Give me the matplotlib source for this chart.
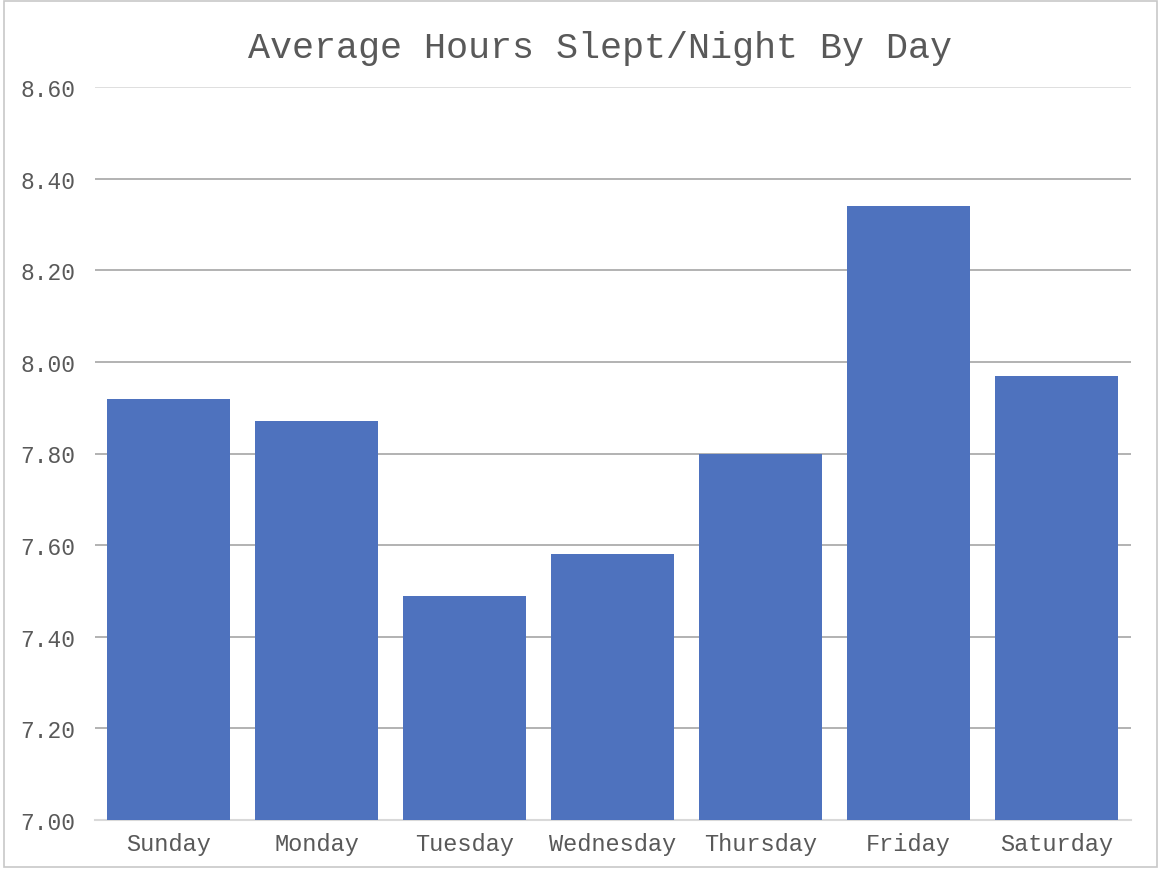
import matplotlib.pyplot as plt
from matplotlib.patches import Rectangle

days = ["Sunday", "Monday", "Tuesday", "Wednesday", "Thursday", "Friday", "Saturday"]
hours = [7.92, 7.87, 7.49, 7.58, 7.80, 8.34, 7.97]
yticks = [7.00, 7.20, 7.40, 7.60, 7.80, 8.00, 8.20, 8.40, 8.60]

plt.rcParams["font.family"] = ["Liberation Mono", "DejaVu Sans Mono"]
text_color = "#595959"

fig = plt.figure(figsize=(11.6, 8.7), dpi=100)
ax = fig.add_axes([94.5 / 1160, 1 - 821 / 870, 1036 / 1160, 733 / 870])

ax.bar(days, hours, width=0.83, color="#4e72be", zorder=3, bottom=0)
ax.set_ylim(7.0, 8.6)
ax.set_xlim(-0.5, len(days) - 0.5)
ax.set_yticks(yticks)
ax.set_yticklabels([f"{v:.2f}" for v in yticks])

ax.grid(axis="y", color="#a6a6a6", linewidth=1.2, zorder=0)
ax.yaxis.get_gridlines()[-1].set_color("#d9d9d9")
for s in ["top", "right", "left"]:
    ax.spines[s].set_visible(False)
ax.spines["bottom"].set_color("#d9d9d9")
ax.spines["bottom"].set_linewidth(1.5)
ax.tick_params(axis="x", length=0, labelsize=17, colors=text_color, pad=9)
ax.tick_params(axis="y", length=0, labelsize=16.5, colors=text_color, pad=14)

fig.text(600 / 1160, 1 - 48 / 870, "Average Hours Slept/Night By Day",
         ha="center", va="center", fontsize=26.5, color=text_color)

fig.patches.append(Rectangle((4 / 1160, 2 / 870), 1153 / 1160, 866 / 870,
                             transform=fig.transFigure, fill=False,
                             edgecolor="#c8c8c8", linewidth=1.2))

fig.savefig("out.png", dpi=100)
